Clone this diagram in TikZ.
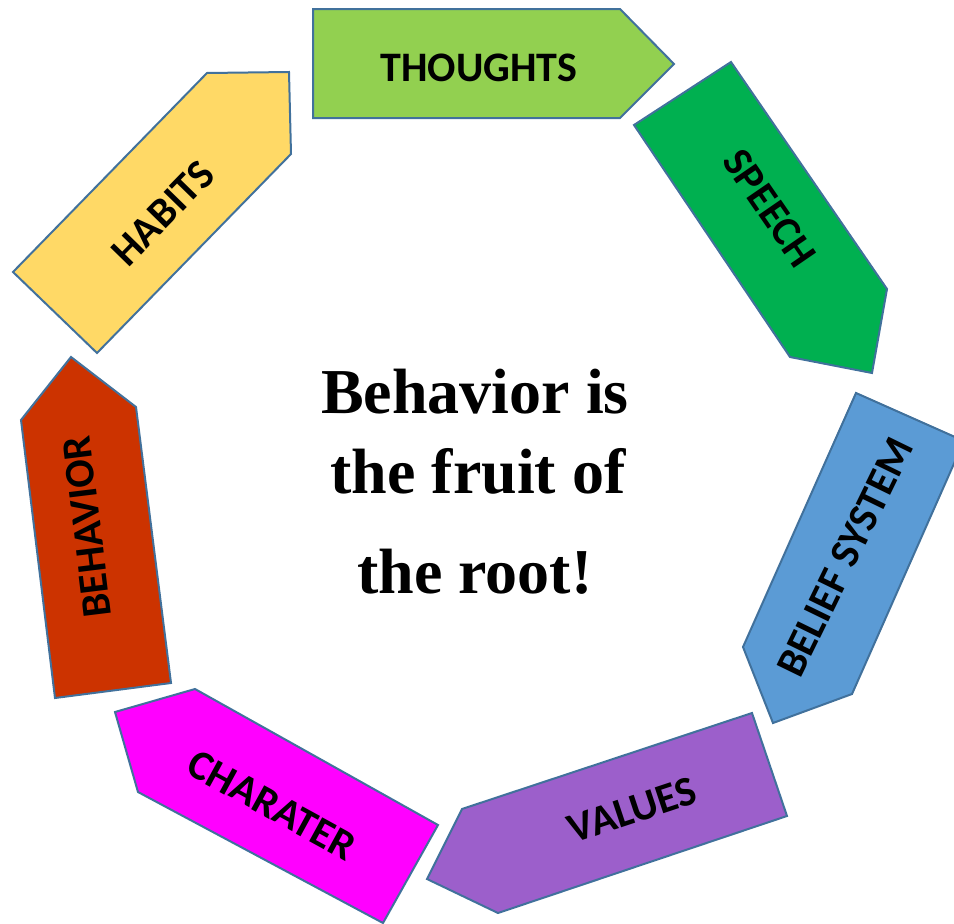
\documentclass[tikz,border=0pt]{standalone}
\usepackage{fontspec}
\setmainfont{Liberation Serif}
\newfontfamily\labelfont{Carlito}
\begin{document}
\begin{tikzpicture}[x=1pt,y=-1pt,
  blockshape/.style={draw=outlineblue,line width=2pt,line join=miter},
  blocklabel/.style={font=\labelfont\bfseries\fontsize{42}{48}\selectfont,text=black,inner sep=0pt},
  centretext/.style={font=\bfseries\fontsize{64}{70}\selectfont,text=black,inner sep=0pt,anchor=base}]
\definecolor{outlineblue}{HTML}{41719C}
\definecolor{cthoughts}{HTML}{92D050}
\definecolor{cspeech}{HTML}{00B050}
\definecolor{cbelief}{HTML}{5B9BD5}
\definecolor{cvalues}{HTML}{9C5FCB}
\definecolor{ccharacter}{HTML}{FF00FF}
\definecolor{cbehavior}{HTML}{CC3300}
\definecolor{chabits}{HTML}{FFD966}
\clip (0,0) rectangle (954,924);

% the seven pentagon arrows of the cycle
\draw[blockshape,fill=cthoughts]  (313,9) -- (620,9) -- (674,64) -- (620,118) -- (313,118) -- cycle;
\draw[blockshape,fill=cspeech]    (634,125) -- (731,62) -- (887,289) -- (872,373) -- (790,357) -- cycle;
\draw[blockshape,fill=cbelief]    (856,393) -- (964,441) -- (852,694) -- (773,723) -- (743,647) -- cycle;
\draw[blockshape,fill=cvalues]    (462,809) -- (752,713) -- (787,816) -- (498,913) -- (427,879) -- cycle;
\draw[blockshape,fill=ccharacter] (195,689) -- (438,825) -- (383,923) -- (138,792) -- (115,712) -- cycle;
\draw[blockshape,fill=cbehavior]  (71,357) -- (136,407) -- (171,683) -- (55,698) -- (21,420) -- cycle;
\draw[blockshape,fill=chabits]    (207,73) -- (289,72) -- (291,154) -- (97,353) -- (13,272) -- cycle;

% labels
\node[blocklabel] (thoughts)  at (479,68)  {THOUGHTS};
\node[blocklabel,rotate=-55.5] (speech) at (770,208) {SPEECH};
\node[blocklabel,rotate=64] (belief) at (845,557) {BELIEF SYSTEM};
\node[blocklabel,rotate=18.4] (values) at (632,810) {VALUES};
\node[blocklabel,rotate=-28.7] (character) at (272,805) {CHARATER};
\node[blocklabel,rotate=97] (behavior) at (87,527) {BEHAVIOR};
\node[blocklabel,rotate=45.7] (habits) at (163,213) {HABITS};

% central statement
\node[centretext] (line1) at (475,413) {Behavior is};
\node[centretext] (line2) at (478,493) {the fruit of};
\node[centretext] (line3) at (475,593) {the root!};
\end{tikzpicture}
\end{document}
